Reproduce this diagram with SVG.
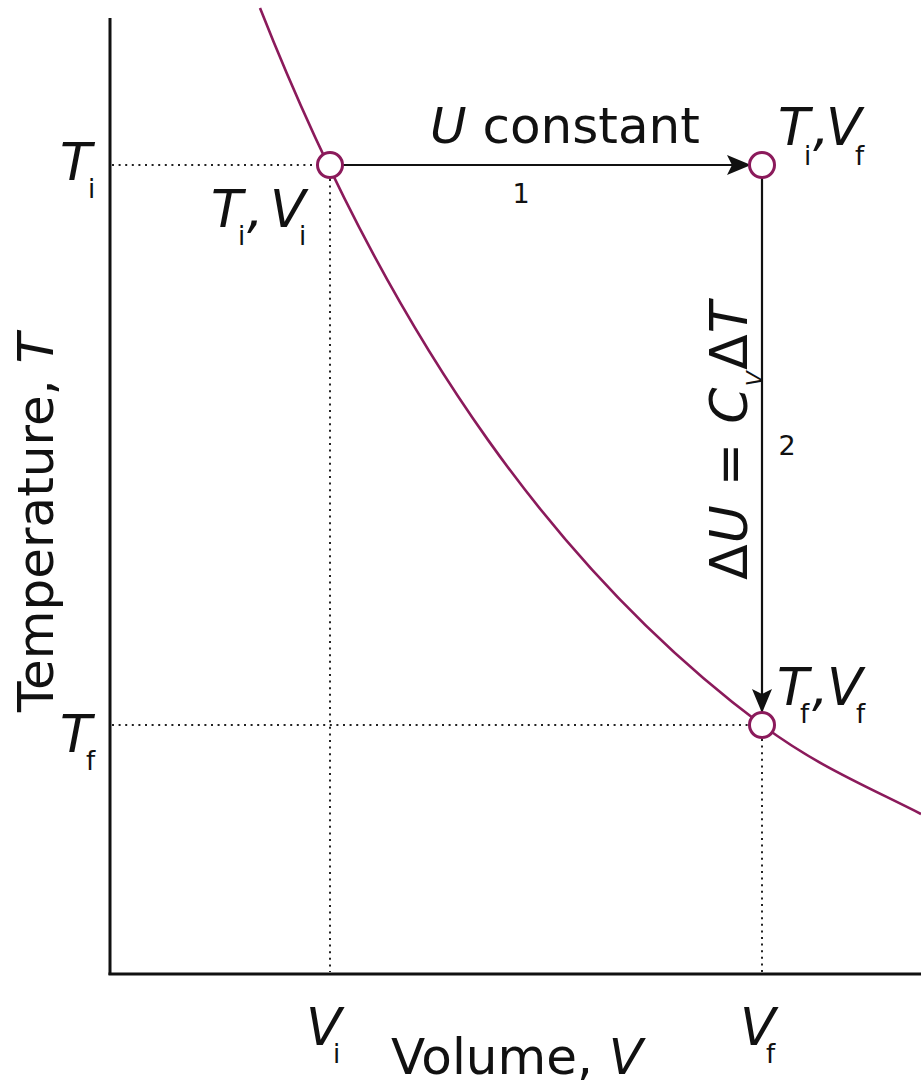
<svg xmlns="http://www.w3.org/2000/svg" width="921" height="1084" viewBox="0 0 921 1084">
<style>
text{font-family:"DejaVu Sans","Liberation Sans",sans-serif;fill:#111}
.m{font-size:52px}
.ax{font-size:50px}
.it{font-style:italic}
.sub{font-size:26px}
.num{font-size:27px}
.axis{stroke:#111;stroke-width:3;fill:none}
.dot{stroke:#222;stroke-width:2;stroke-dasharray:2 4.6;fill:none}
.conn{stroke:#111;stroke-width:2.2;fill:none}
.curve{stroke:#8b1a5b;stroke-width:2.6;fill:none}
.pt{stroke:#8b1a5b;stroke-width:3;fill:#fff}
</style>
<defs>
<marker id="ah" viewBox="0 0 24 20" refX="23" refY="10" markerWidth="24" markerHeight="20" markerUnits="userSpaceOnUse" orient="auto">
<path d="M0,0 L24,10 L0,20 L5,10 Z" fill="#111"/>
</marker>
</defs>
<g id="axes">
<line class="axis" x1="110" y1="18" x2="110" y2="975"/>
<line class="axis" x1="108.5" y1="974" x2="921" y2="974"/>
<text class="ax" transform="translate(53,712) rotate(-90)">Temperature, <tspan class="it">T</tspan></text>
<text class="ax" x="391" y="1074">Volume, <tspan class="it">V</tspan></text>
<text class="m"><tspan class="it" x="60" y="180">T</tspan><tspan class="sub" x="88" y="198">i</tspan></text>
<text class="m"><tspan class="it" x="60" y="752">T</tspan><tspan class="sub" x="86" y="770">f</tspan></text>
<text class="m"><tspan class="it" x="306" y="1045">V</tspan><tspan class="sub" x="333" y="1063">i</tspan></text>
<text class="m"><tspan class="it" x="740" y="1045">V</tspan><tspan class="sub" x="766" y="1063">f</tspan></text>
</g>
<g id="guides">
<line class="dot" x1="112" y1="165" x2="317" y2="165"/>
<line class="dot" x1="330" y1="179" x2="330" y2="972"/>
<line class="dot" x1="112" y1="725" x2="749" y2="725"/>
<line class="dot" x1="762" y1="739" x2="762" y2="972"/>
</g>
<g id="curve">
<path class="curve" d="M260,8 C395,350 565,578 762,725 C817,766 866,786 921,814"/>
</g>
<g id="connectors">
<line class="conn" x1="343" y1="165" x2="750" y2="165" marker-end="url(#ah)"/>
<line class="conn" x1="762" y1="178" x2="762" y2="712" marker-end="url(#ah)"/>
<text class="ax"><tspan class="it" x="430" y="143">U</tspan> constant</text>
<text class="num" x="521" y="203" text-anchor="middle">1</text>
<text class="num" x="787" y="455" text-anchor="middle">2</text>
<text class="m" transform="translate(747,580) rotate(-90)" letter-spacing="1.2">Δ<tspan class="it">U</tspan> = <tspan class="it">C</tspan><tspan class="it" font-size="22" dy="15">V</tspan><tspan dy="-15">Δ</tspan><tspan class="it">T</tspan></text>
</g>
<g id="node-i">
<circle class="pt" cx="330" cy="165" r="12.5"/>
<text class="m"><tspan class="it" x="211" y="227">T</tspan><tspan class="sub" x="238" y="245">i</tspan><tspan class="it" x="247" y="227">,</tspan><tspan class="it" x="270" y="227">V</tspan><tspan class="sub" x="299" y="245">i</tspan></text>
</g>
<g id="node-2">
<circle class="pt" cx="762" cy="165" r="12.5"/>
<text class="m"><tspan class="it" x="778" y="145">T</tspan><tspan class="sub" x="804" y="165">i</tspan><tspan class="it" x="813" y="145">,</tspan><tspan class="it" x="826" y="145">V</tspan><tspan class="sub" x="855" y="165">f</tspan></text>
</g>
<g id="node-f">
<circle class="pt" cx="762" cy="725" r="12.5"/>
<text class="m"><tspan class="it" x="777" y="705">T</tspan><tspan class="sub" x="800" y="723">f</tspan><tspan class="it" x="812" y="705">,</tspan><tspan class="it" x="827" y="705">V</tspan><tspan class="sub" x="856" y="723">f</tspan></text>
</g>
</svg>
